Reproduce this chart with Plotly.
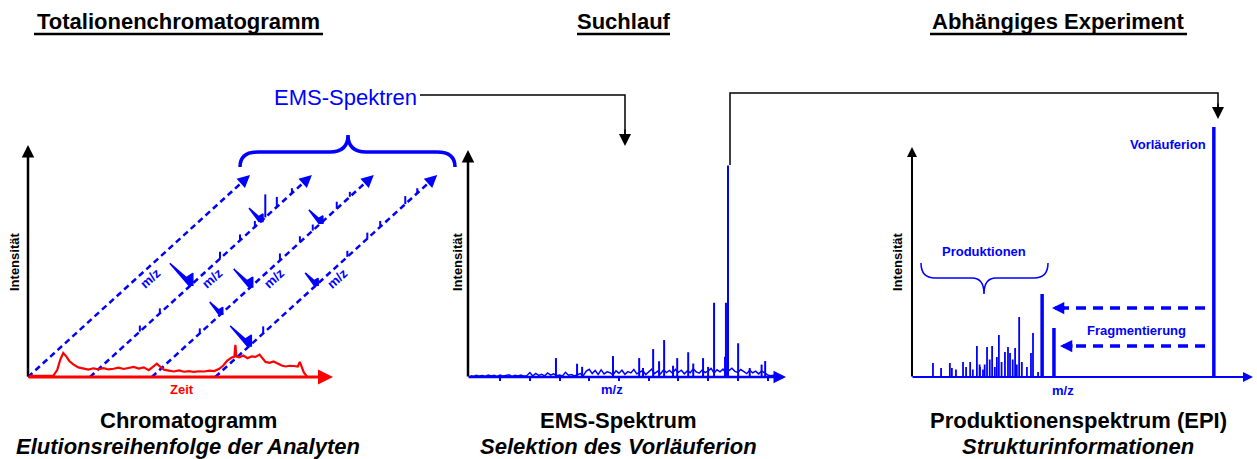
import plotly.graph_objects as go

W, H = 1257, 459
BLUE = "#0000ff"
RED = "#ff0000"
FONT = "Liberation Sans, Arial, sans-serif"

# ---------------- data ----------------
# Total ion chromatogram (time in min, relative intensity %)
tic_time = [0, 2.5, 2.9, 3.2, 3.5, 3.8, 4.1, 4.5, 5.0, 5.5, 6.0, 6.5, 7.0, 7.5, 8.0, 8.5,
            9.0, 9.5, 10.0, 10.5, 11.0, 11.5, 12.0, 12.4, 12.8, 13.1, 13.5, 14.0, 14.5, 15.0,
            15.5, 16.0, 16.5, 17.0, 17.5, 18.0, 18.5, 19.0, 19.4, 19.8, 20.2, 20.5, 20.6, 20.7,
            21.0, 21.4, 21.8, 22.2, 22.6, 23.0, 23.3, 23.6, 24.0, 24.4, 24.8, 25.2, 25.6, 26.0,
            26.4, 26.8, 27.0, 27.2, 27.4, 27.7]
tic_int = [0.5, 0.5, 3.0, 7.5, 10.5, 9.0, 7.0, 5.5, 4.2, 3.6, 3.2, 3.8, 3.4, 3.9, 3.3, 3.6,
           4.1, 3.5, 3.9, 4.4, 3.7, 4.2, 3.0, 4.5, 5.8, 4.6, 3.2, 2.8, 2.4, 2.9,
           2.3, 2.6, 2.2, 2.5, 2.4, 2.8, 2.6, 3.6, 5.0, 7.2, 8.4, 8.9, 14.0, 9.0,
           8.6, 9.4, 8.2, 9.0, 8.8, 9.8, 8.0, 6.6, 6.2, 6.8, 5.9, 5.0, 4.6, 4.9,
           4.8, 4.6, 6.6, 4.0, 2.0, 0.3]

# EMS scans started at these retention times (min)
scan_times = [0.0, 6.15, 12.3, 18.6]
# peaks along each scan's m/z axis: (fraction of m/z axis, height px)
scan_spikes = [
    [],
    [(0.225, 6), (0.315, 5), (0.586, 7), (0.676, 6), (0.743, 6), (0.79, 23), (0.842, 10), (0.91, 5)],
    [(0.216, 5), (0.577, 7), (0.667, 6), (0.725, 6), (0.833, 7), (0.892, 5)],
    [(0.216, 7), (0.595, 6), (0.685, 6), (0.743, 6), (0.856, 8), (0.91, 5)],
]
scan_wedges = [
    [],
    [(0.459, 22), (0.775, 13)],
    [(0.315, 12), (0.45, 18), (0.766, 13)],
    [(0.158, 20), (0.459, 12)],
]

# EMS spectrum
ems_mz = [867, 860, 820, 901, 652, 615, 733, 568, 696, 783, 480, 288, 992,
          359, 376, 635, 682, 750, 940, 980, 581, 800, 857]
ems_int = [94, 33, 33, 15, 16.4, 12.4, 11, 8.4, 8.4, 8.4, 9.3, 8.4, 7.1,
           5.9, 4.5, 7.0, 5.0, 6.0, 4.0, 5.5, 4.0, 4.5, 9.0]
ems_noise = [0.6, 0.3, 0.8, 0.4, 0.7, 0.3, 0.9, 0.5, 0.8, 0.3,
             0.9, 0.4, 0.7, 1.0, 0.3, 0.8, 0.5, 0.9, 0.4, 0.6,
             2.0, 0.5, 1.6, 0.7, 1.2, 0.5, 1.8, 0.8, 1.4, 0.6,
             0.9, 0.5, 2.1, 0.8, 1.1, 0.5, 1.0, 1.5, 0.6, 2.6,
             3.4, 1.5, 2.9, 1.1, 3.2, 1.4, 2.3, 1.9, 0.9, 2.7,
             1.7, 3.0, 1.2, 2.4, 1.8, 3.3, 1.4, 2.1, 2.9, 1.1,
             2.3, 3.5, 1.5, 2.6, 1.4, 3.2, 2.0, 2.9, 1.7, 3.4,
             2.1, 3.0, 1.4, 2.7, 1.9, 3.6, 2.3, 1.7, 3.1, 2.0,
             2.6, 3.8, 1.8, 3.2, 2.3, 3.5, 1.7, 2.9, 3.9, 2.5,
             2.0, 3.3, 2.3, 1.5, 3.0, 1.9, 2.6, 1.4, 2.7, 1.7,
             0.9, 0.6, 0.8, 0.4, 0.3]
ems_noise_mz = [10 * i for i in range(len(ems_noise))]
ems_ticks = [100, 200, 300, 400, 500, 600, 700, 800, 900, 1000]

# EPI product ion spectrum
epi_major_mz = [893, 385, 420]
epi_major_int = [100, 33.2, 19.6]
epi_mz = [317, 358, 257, 284, 305, 192, 222, 237, 151, 172, 112, 62, 86, 118, 373, 201,
          251, 290, 352, 200, 210, 230, 245, 265, 275, 298, 310, 325, 340, 130, 160, 180, 215]
epi_int = [24, 17.6, 16.8, 12, 11.6, 12.4, 12, 12.4, 6, 6, 5.6, 5.6, 3.6, 3.6, 2, 4,
           8, 9.6, 9.6, 5, 3, 7, 4, 6, 10, 7, 5, 6, 4, 3, 4, 3, 5]

# ---------------- helpers ----------------
def sticks(xs, ys):
    X, Y = [], []
    for x, y in zip(xs, ys):
        X += [x, x, None]
        Y += [0, y, None]
    return X, Y

def t2px(t):  # chromatogram time -> canvas px (x axis 28..330 for 0..30 min)
    return 28 + t * (330 - 28) / 30.0

DX, DY = 222, 202  # diagonal m/z axis vector (px)

def diag(x0, u):
    return x0 + DX * u, 377 - DY * u

fig = go.Figure()

# chromatogram
fig.add_trace(go.Scatter(x=tic_time, y=tic_int, mode="lines", line=dict(color=RED, width=2.2),
                         xaxis="x4", yaxis="y4", hoverinfo="skip"))

# diagonal EMS scans
for k, t0 in enumerate(scan_times):
    x0 = t2px(t0)
    xa, ya = diag(x0, 0)
    xb, yb = diag(x0, 0.96)
    fig.add_trace(go.Scatter(x=[xa, xb], y=[ya, yb], mode="lines",
                             line=dict(color=BLUE, width=2.5, dash="6px,4px"),
                             hoverinfo="skip"))
    xt, yt = diag(x0, 1.0)
    xc, yc = diag(x0, 0.955)
    fig.add_annotation(x=xt, y=yt, ax=xc, ay=yc, xref="x", yref="y", axref="x", ayref="y",
                       text="", showarrow=True, arrowhead=2, arrowsize=1.0, arrowwidth=2.5,
                       arrowcolor=BLUE)
    X, Y = [], []
    for u, h in scan_spikes[k]:
        px, py = diag(x0, u)
        X += [px, px, None]
        Y += [py, py - h, None]
    if X:
        fig.add_trace(go.Scatter(x=X, y=Y, mode="lines", line=dict(color=BLUE, width=2),
                                 hoverinfo="skip"))
    for u, s in scan_wedges[k]:
        px, py = diag(x0, u)
        wx = [px - s, px - 0.25 * s, px + 1, px + 1, px - 3, px - s]
        wy = [py - 0.95 * s, py - 0.3 * s, py - 0.5 * s, py + 1, py + 1, py - 0.95 * s]
        fig.add_trace(go.Scatter(x=wx, y=wy, mode="lines", fill="toself", fillcolor=BLUE,
                                 line=dict(color=BLUE, width=1.5), hoverinfo="skip"))
    lx, ly = diag(x0, 0.495)
    fig.add_annotation(x=lx + 12, y=ly + 1, text="<b>m/z</b>", showarrow=False, textangle=-42,
                       font=dict(family=FONT, size=13, color=BLUE), xref="x", yref="y")

# EMS spectrum
nx, ny = sticks(ems_mz, ems_int)
fig.add_trace(go.Scatter(x=ems_noise_mz, y=ems_noise, mode="lines",
                         line=dict(color=BLUE, width=1.5), xaxis="x2", yaxis="y2", hoverinfo="skip"))
fig.add_trace(go.Scatter(x=nx, y=ny, mode="lines", line=dict(color=BLUE, width=2),
                         xaxis="x2", yaxis="y2", hoverinfo="skip"))

# EPI spectrum
ex, ey = sticks(epi_mz, epi_int)
fig.add_trace(go.Scatter(x=ex, y=ey, mode="lines", line=dict(color=BLUE, width=1.8),
                         xaxis="x3", yaxis="y3", hoverinfo="skip"))
mx, my = sticks(epi_major_mz, epi_major_int)
fig.add_trace(go.Scatter(x=mx, y=my, mode="lines", line=dict(color=BLUE, width=3.5),
                         xaxis="x3", yaxis="y3", hoverinfo="skip"))

# fragmentation arrows (dashed, EPI panel)
for yy, xend in [(308, 1064), (346, 1072)]:
    fig.add_trace(go.Scatter(x=[1205, xend], y=[yy, yy], mode="lines",
                             line=dict(color=BLUE, width=3.5, dash="10px,7px"), hoverinfo="skip"))
    fig.add_annotation(x=xend - 12, y=yy, ax=xend + 2, ay=yy, xref="x", yref="y", axref="x",
                       ayref="y", text="", showarrow=True, arrowhead=2, arrowsize=0.7,
                       arrowwidth=3.5, arrowcolor=BLUE)

# axes arrows
def arrow(x, y, ax, ay, color, width, size=1.0, head=2):
    fig.add_annotation(x=x, y=y, ax=ax, ay=ay, xref="x", yref="y", axref="x", ayref="y",
                       text="", showarrow=True, arrowhead=head, arrowsize=size,
                       arrowwidth=width, arrowcolor=color)

arrow(28, 145, 28, 378, "black", 2.5)
arrow(333, 377, 27, 377, RED, 3)
arrow(468, 150, 468, 378, "black", 2.5)
arrow(786, 377, 467, 377, BLUE, 2.5)
arrow(912, 147, 912, 378, "black", 2)
arrow(1253, 377, 911, 377, BLUE, 2)

# connector lines, braces, title underlines
shapes = [
    dict(type="path", path="M 420 95 L 625 95 L 625 135", xref="x", yref="y",
         line=dict(color="black", width=1.5)),
    dict(type="path", path="M 730 165 L 730 93 L 1218 93 L 1218 108", xref="x", yref="y",
         line=dict(color="black", width=1.5)),
    dict(type="path", xref="x", yref="y", line=dict(color=BLUE, width=3.5),
         path="M 240 167 Q 240 152 258 152 L 330 152 Q 348 152 348 135 "
              "Q 348 152 366 152 L 437 152 Q 455 152 455 167"),
    dict(type="path", xref="x", yref="y", line=dict(color=BLUE, width=1.5),
         path="M 921 263 Q 921 278 935 278 L 972 278 Q 984 278 984 294 "
              "Q 984 278 996 278 L 1034 278 Q 1048 278 1048 263"),
    dict(type="line", xref="x", yref="y", x0=34, x1=323, y0=34, y1=34,
         line=dict(color="black", width=2.5)),
    dict(type="line", xref="x", yref="y", x0=577, x1=670, y0=34, y1=34,
         line=dict(color="black", width=2.5)),
    dict(type="line", xref="x", yref="y", x0=930, x1=1187, y0=34, y1=34,
         line=dict(color="black", width=2.5)),
]
arrow(625, 146, 625, 128, "black", 1.5, size=1.6)
arrow(1218, 119, 1218, 102, "black", 1.5, size=1.6)

# texts
def txt(x, y, s, size, color="black", angle=0):
    fig.add_annotation(x=x, y=y, text=s, showarrow=False, xref="x", yref="y",
                       textangle=angle, font=dict(family=FONT, size=size, color=color))

txt(178, 21, "<b>Totalionenchromatogramm</b>", 22)
txt(624, 21, "<b>Suchlauf</b>", 22)
txt(1058, 21, "<b>Abhängiges Experiment</b>", 22)
txt(345, 97, "EMS-Spektren", 22, BLUE)

txt(188, 420, "<b>Chromatogramm</b>", 22)
txt(188, 446, "<b><i>Elutionsreihenfolge der Analyten</i></b>", 22)
txt(618, 420, "<b>EMS-Spektrum</b>", 22)
txt(618, 446, "<b><i>Selektion des Vorläuferion</i></b>", 22)
txt(1078, 420, "<b>Produktionenspektrum (EPI)</b>", 22)
txt(1078, 446, "<b><i>Strukturinformationen</i></b>", 22)

txt(14, 262, "<b>Intensität</b>", 13, angle=-90)
txt(457, 262, "<b>Intensität</b>", 13, angle=-90)
txt(897, 262, "<b>Intensität</b>", 13, angle=-90)
txt(182, 389, "<b>Zeit</b>", 13, RED)
txt(612, 389, "<b>m/z</b>", 13, BLUE)
txt(1063, 390, "<b>m/z</b>", 13, BLUE)
txt(1168, 144, "<b>Vorläuferion</b>", 13, BLUE)
txt(984, 251, "<b>Produktionen</b>", 13, BLUE)
txt(1136, 330, "<b>Fragmentierung</b>", 13, BLUE)

hidden = dict(visible=False, showgrid=False, zeroline=False, fixedrange=True)
def dom_y(top, bottom):
    return [1 - bottom / H, 1 - top / H]

fig.update_layout(
    width=W, height=H, margin=dict(l=0, r=0, t=0, b=0),
    paper_bgcolor="white", plot_bgcolor="rgba(0,0,0,0)", showlegend=False,
    shapes=shapes,
    xaxis=dict(range=[0, W], domain=[0, 1], **hidden),
    yaxis=dict(range=[H, 0], domain=[0, 1], **hidden),
    xaxis2=dict(range=[-8, 1052], domain=[468 / W, 783 / W], anchor="y2", showgrid=False,
                zeroline=False, showline=False, ticks="outside", ticklen=3, tickwidth=1.5,
                tickcolor=BLUE, tickvals=ems_ticks, showticklabels=False, fixedrange=True),
    yaxis2=dict(range=[0, 100], domain=dom_y(152, 377), anchor="x2", **hidden),
    xaxis3=dict(range=[0, 1000], domain=[912 / W, 1250 / W], anchor="y3", **hidden),
    yaxis3=dict(range=[0, 100], domain=dom_y(127, 377), anchor="x3", **hidden),
    xaxis4=dict(range=[0, 30], domain=[28 / W, 330 / W], anchor="y4", **hidden),
    yaxis4=dict(range=[0, 100], domain=dom_y(148, 377), anchor="x4", **hidden),
)

fig.write_html("out.html")
